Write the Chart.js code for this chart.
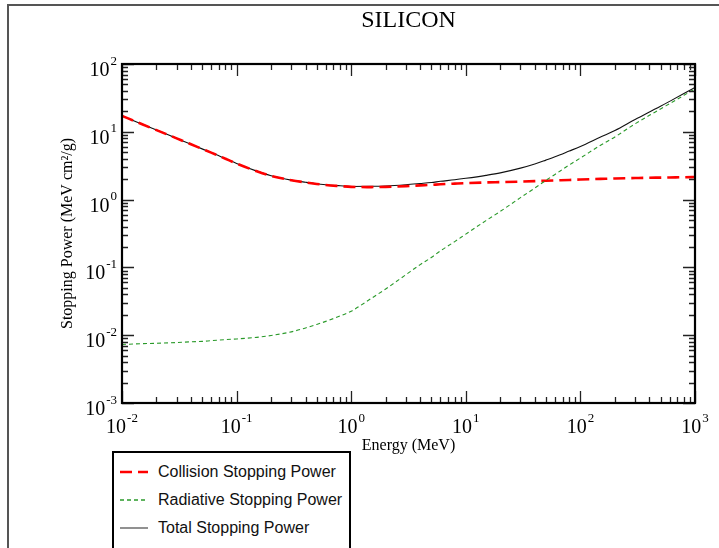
<!DOCTYPE html>
<html>
<head>
<meta charset="utf-8">
<title>Silicon stopping power</title>
<script src="https://cdn.jsdelivr.net/npm/chart.js@4/dist/chart.umd.min.js"></script>
<style>
  html, body { margin: 0; padding: 0; background: #fff; overflow: hidden; }
  #wrap { position: relative; width: 719px; height: 548px; overflow: hidden; }
  #frame { position: absolute; left: 7px; top: 4px; width: 800px; height: 700px;
           border-left: 2px solid #555; border-top: 2px solid #555; }
  #chart { position: absolute; left: 0; top: 0; }
  #legend { position: absolute; left: 112px; top: 451px; width: 235px; height: 130px;
            border: 2px solid #000; background: #fff;
            font: 16px 'Liberation Sans', Arial, sans-serif; color: #111; }
  .item { position: absolute; left: 0; height: 20px; display: flex; align-items: center; white-space: nowrap; }
  .item svg { margin-left: 6px; margin-right: 10px; }
</style>
</head>
<body>
<div id="wrap">
  <div id="frame"></div>
  <canvas id="chart" width="719" height="548"></canvas>
  <div id="legend"></div>
</div>
<script>
'use strict';

// energies (MeV) and stopping powers (MeV cm2/g)
var energies = [0.01, 0.015, 0.02, 0.03, 0.04, 0.05, 0.06, 0.08, 0.1, 0.15, 0.2, 0.3, 0.4, 0.5, 0.6, 0.8,
  1, 1.5, 2, 3, 4, 5, 6, 8, 10, 15, 20, 30, 40, 50, 60, 80, 100, 150, 200, 300, 400, 500, 600, 800, 1000];

var collision = [17.2, 12.9, 10.6, 8.0, 6.55, 5.6, 4.93, 4.0, 3.4, 2.62, 2.24, 1.93, 1.79, 1.70, 1.64, 1.58,
  1.54, 1.53, 1.54, 1.58, 1.62, 1.65, 1.68, 1.72, 1.75, 1.79, 1.81, 1.84, 1.87, 1.90, 1.92, 1.95,
  1.98, 2.02, 2.05, 2.08, 2.10, 2.11, 2.12, 2.14, 2.15];

var radiative = [0.0073, 0.0075, 0.0076, 0.0078, 0.0080, 0.0081, 0.0083, 0.0086, 0.0088, 0.0093, 0.0099,
  0.0112, 0.0128, 0.0144, 0.0160, 0.0192, 0.0226, 0.035, 0.048, 0.078, 0.11, 0.14, 0.175, 0.24, 0.31,
  0.49, 0.67, 1.07, 1.48, 1.92, 2.35, 3.25, 4.1, 6.35, 8.4, 13.1, 17.5, 21.7, 26, 34.5, 43];

var total = [17.2, 12.9, 10.6, 8.0, 6.56, 5.6, 4.94, 4.01, 3.41, 2.63, 2.25, 1.94, 1.80, 1.71, 1.66, 1.60,
  1.56, 1.57, 1.59, 1.66, 1.73, 1.79, 1.86, 1.96, 2.06, 2.28, 2.48, 2.91, 3.35, 3.82, 4.27, 5.2,
  6.08, 8.37, 10.45, 15.2, 19.6, 23.8, 28.1, 36.6, 45.1];

// decades shown on each axis (exponents of ten)
var xDecades = [-2, -1, 0, 1, 2, 3];
var yDecades = [-3, -2, -1, 0, 1, 2];

var serif = "'Liberation Serif', 'Times New Roman', serif";

function isDecade(v) {
  var l = Math.log10(v);
  return Math.abs(l - Math.round(l)) < 1e-9;
}

function decadeTicks(decades) {
  var out = [];
  for (var i = 0; i < decades.length; i++) {
    var base = Math.pow(10, decades[i]);
    out.push({ value: base });
    if (i === decades.length - 1) break;
    for (var m = 2; m <= 9; m++) out.push({ value: m * base });
  }
  return out;
}

function pairs(ys) {
  return energies.map(function(e, i) { return { x: e, y: ys[i] }; });
}

// "10" with a raised exponent, like the original plotting program
function drawPower(ctx, exp, x, y, mode) {
  var base = '10';
  var sup = String(exp);
  ctx.font = '20px ' + serif;
  var wb = ctx.measureText(base).width;
  ctx.font = '13px ' + serif;
  var ws = ctx.measureText(sup).width;
  var left = mode === 'right' ? x - wb - 1 - ws : x - (wb + 1 + ws) / 2;
  ctx.font = '20px ' + serif;
  ctx.fillText(base, left, y);
  ctx.font = '13px ' + serif;
  ctx.fillText(sup, left + wb + 1, y - 11.5);
}

// inside tick marks on all four sides, plot box and decade labels
var frameTicks = {
  id: 'frameTicks',
  afterDatasetsDraw: function(chart) {
    var ctx = chart.ctx;
    var a = chart.chartArea;
    var sx = chart.scales.x;
    var sy = chart.scales.y;
    ctx.save();
    ctx.strokeStyle = '#222';
    ctx.lineWidth = 1.3;
    ctx.beginPath();
    sx.ticks.forEach(function(t) {
      var px = Math.round(sx.getPixelForValue(t.value)) + 0.5;
      var len = isDecade(t.value) ? 12 : 6;
      ctx.moveTo(px, a.bottom); ctx.lineTo(px, a.bottom - len);
      ctx.moveTo(px, a.top); ctx.lineTo(px, a.top + len);
    });
    sy.ticks.forEach(function(t) {
      var py = Math.round(sy.getPixelForValue(t.value)) + 0.5;
      var len = isDecade(t.value) ? 12 : 6;
      ctx.moveTo(a.left, py); ctx.lineTo(a.left + len, py);
      ctx.moveTo(a.right, py); ctx.lineTo(a.right - len, py);
    });
    ctx.stroke();
    ctx.strokeStyle = '#000';
    ctx.lineWidth = 2.2;
    ctx.strokeRect(a.left, a.top, a.right - a.left, a.bottom - a.top);

    ctx.fillStyle = '#000';
    ctx.textBaseline = 'alphabetic';
    ctx.textAlign = 'left';
    xDecades.forEach(function(d) {
      drawPower(ctx, d, sx.getPixelForValue(Math.pow(10, d)), a.bottom + 30, 'center');
    });
    yDecades.forEach(function(d) {
      drawPower(ctx, d, a.left - 5, sy.getPixelForValue(Math.pow(10, d)) + 12, 'right');
    });
    ctx.restore();
  }
};

var chart = new Chart(document.getElementById('chart'), {
  type: 'line',
  data: {
    datasets: [{
      label: 'Collision Stopping Power',
      data: pairs(collision),
      borderColor: '#ff0000',
      borderWidth: 2.6,
      borderDash: [12, 6],
      pointRadius: 0,
      cubicInterpolationMode: 'monotone',
      order: 1,
    }, {
      label: 'Radiative Stopping Power',
      data: pairs(radiative),
      borderColor: '#2a9a2a',
      borderWidth: 1.1,
      borderDash: [4, 3],
      pointRadius: 0,
      cubicInterpolationMode: 'monotone',
      order: 0,
    }, {
      label: 'Total Stopping Power',
      data: pairs(total),
      borderColor: '#111',
      borderWidth: 1.1,
      pointRadius: 0,
      cubicInterpolationMode: 'monotone',
      order: 2,
    }],
  },
  options: {
    responsive: false,
    animation: false,
    layout: { padding: { left: 0, top: 0, right: 24, bottom: 90 } },
    plugins: {
      legend: { display: false },
      tooltip: { enabled: false },
    },
    scales: {
      x: {
        type: 'logarithmic',
        position: 'bottom',
        min: 0.01,
        max: 1000,
        afterBuildTicks: function(s) { s.ticks = decadeTicks(xDecades); },
        afterFit: function(s) { s.height = 55; },
        grid: { display: false, drawTicks: false },
        border: { display: false },
        ticks: { display: false },
        title: {
          display: true,
          text: 'Energy (MeV)',
          color: '#000',
          font: { family: serif, size: 16 },
          padding: { top: 0, bottom: 3 },
        },
      },
      top: {
        type: 'logarithmic',
        position: 'top',
        min: 0.01,
        max: 1000,
        afterFit: function(s) { s.height = 64; },
        grid: { display: false, drawTicks: false },
        border: { display: false },
        ticks: { display: false },
        title: {
          display: true,
          text: 'SILICON',
          color: '#000',
          font: { family: serif, size: 24 },
          padding: { top: 6, bottom: 0 },
        },
      },
      y: {
        type: 'logarithmic',
        position: 'left',
        min: 0.001,
        max: 100,
        afterBuildTicks: function(s) { s.ticks = decadeTicks(yDecades); },
        afterFit: function(s) { s.width = 122; },
        grid: { display: false, drawTicks: false },
        border: { display: false },
        ticks: { display: false },
        title: {
          display: true,
          text: 'Stopping Power (MeV cm\u00B2/g)',
          color: '#000',
          font: { family: serif, size: 16 },
          padding: { top: 58, bottom: 0 },
        },
      },
    },
  },
  plugins: [frameTicks],
});

// legend box built from the chart's datasets
(function buildLegend() {
  var box = document.getElementById('legend');
  var rowTops = [9, 37, 65];
  chart.data.datasets.forEach(function(ds, i) {
    var row = document.createElement('div');
    row.className = 'item';
    row.style.top = rowTops[i] + 'px';
    var dash = ds.borderDash ? ds.borderDash.join(' ') : 'none';
    var color = i === 2 ? '#555' : ds.borderColor;
    var w = i === 0 ? 2.6 : 1.3;
    row.innerHTML = '<svg width="28" height="10"><line x1="0" y1="5" x2="28" y2="5" stroke="' + color +
      '" stroke-width="' + w + '" stroke-dasharray="' + dash + '"/></svg><span>' + ds.label + '</span>';
    box.appendChild(row);
  });
})();
</script>
</body>
</html>
